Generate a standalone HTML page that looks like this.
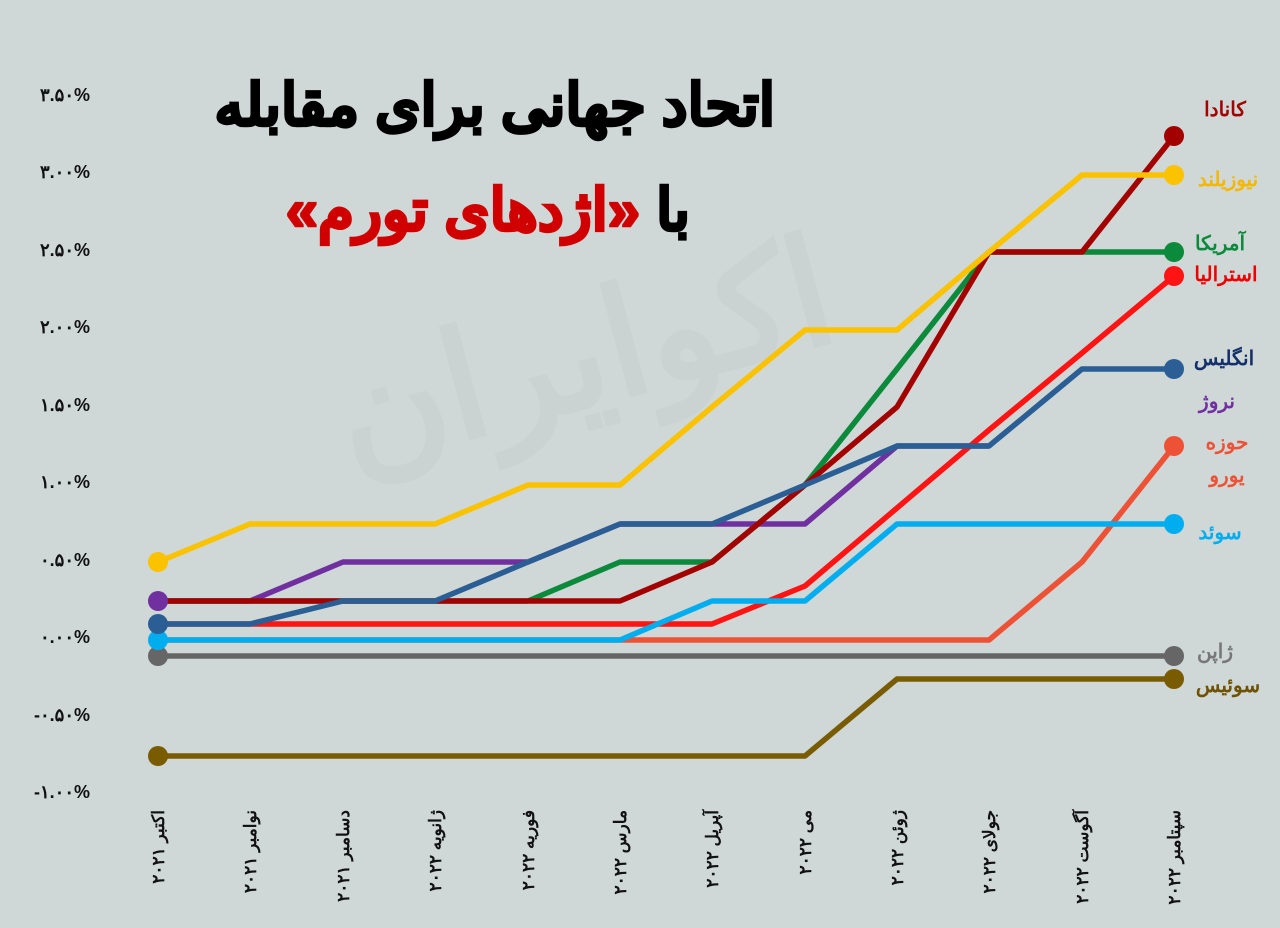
<!DOCTYPE html>
<html><head><meta charset="utf-8"><style>
html,body{margin:0;padding:0;background:#cfd7d7;}
svg{display:block}
text{font-family:"Liberation Sans","Noto Sans CJK SC",sans-serif;font-weight:bold}
</style></head><body>
<svg width="1280" height="928" viewBox="0 0 1280 928" xmlns="http://www.w3.org/2000/svg">
<rect width="1280" height="928" fill="#cfd7d7"/>
<text x="600" y="430" font-size="150" fill="#cad2d2" text-anchor="middle" transform="rotate(-15 500 430)" direction="rtl">اکوایران</text>
<g font-size="18" fill="#111" text-anchor="end">
<text x="90" y="101">۳.۵۰%</text>
<text x="90" y="178">۳.۰۰%</text>
<text x="90" y="256">۲.۵۰%</text>
<text x="90" y="333">۲.۰۰%</text>
<text x="90" y="411">۱.۵۰%</text>
<text x="90" y="488">۱.۰۰%</text>
<text x="90" y="566">۰.۵۰%</text>
<text x="90" y="643">۰.۰۰%</text>
<text x="90" y="721">-۰.۵۰%</text>
<text x="90" y="798">-۱.۰۰%</text>
</g>
<text x="775" y="125" font-size="58" fill="#000" stroke="#000" stroke-width="2.5" text-anchor="start" direction="rtl">اتحاد جهانی برای مقابله</text>
<text x="690" y="230" font-size="58" stroke-width="2.5" text-anchor="start" direction="rtl"><tspan fill="#000" stroke="#000">با </tspan><tspan fill="#d10000" stroke="#d10000">«اژدهای تورم»</tspan></text>
<g fill="none" stroke-width="5.5" stroke-linejoin="round">
<polyline stroke="#7a5c00" points="158,756 805,756 897,679 1174,679"/>
<polyline stroke="#666666" points="158,656 1174,656"/>
<polyline stroke="#ee5236" points="158,640 989,640 1082,562 1174,446"/>
<polyline stroke="#7030a0" points="158,601 250,601 343,562 528,562 620,524 805,524 897,446 989,446"/>
<polyline stroke="#0b8a3c" points="158,601 528,601 620,562 712,562 805,485 897,369 989,252 1174,252"/>
<polyline stroke="#a30000" points="158,601 620,601 712,562 805,485 897,407 989,252 1082,252 1174,136"/>
<polyline stroke="#ff1414" points="158,624 712,624 805,586 897,508 989,430 1082,353 1174,276"/>
<polyline stroke="#00aeef" points="158,640 620,640 712,601 805,601 897,524 1174,524"/>
<polyline stroke="#2a5e94" points="158,624 250,624 343,601 435,601 528,562 620,524 712,524 805,485 897,446 989,446 1082,369 1174,369"/>
<polyline stroke="#fbc200" points="158,562 250,524 435,524 528,485 620,485 712,407 805,330 897,330 989,252 1082,175 1174,175"/>
</g>
<g>
<circle cx="158" cy="756" r="10" fill="#7a5c00"/>
<circle cx="158" cy="656" r="10" fill="#666"/>
<circle cx="158" cy="640" r="10" fill="#00aeef"/>
<circle cx="158" cy="624" r="10" fill="#2a5e94"/>
<circle cx="158" cy="601" r="10" fill="#7030a0"/>
<circle cx="158" cy="562" r="10" fill="#fbc200"/>
<circle cx="1174" cy="136" r="10" fill="#a30000"/>
<circle cx="1174" cy="175" r="10" fill="#fbc200"/>
<circle cx="1174" cy="252" r="10" fill="#0b8a3c"/>
<circle cx="1174" cy="276" r="10" fill="#ff1414"/>
<circle cx="1174" cy="369" r="10" fill="#2a5e94"/>
<circle cx="1174" cy="446" r="10" fill="#ee5236"/>
<circle cx="1174" cy="524" r="10" fill="#00aeef"/>
<circle cx="1174" cy="656" r="10" fill="#666"/>
<circle cx="1174" cy="679" r="10" fill="#7a5c00"/>
</g>
<g font-size="20" text-anchor="middle" direction="rtl">
<text x="1225" y="116" fill="#a30000">کانادا</text>
<text x="1228" y="186" fill="#f5b800">نیوزیلند</text>
<text x="1220" y="250" fill="#0b8a3c">آمریکا</text>
<text x="1226" y="281" fill="#ee0000">استرالیا</text>
<text x="1224" y="365" fill="#14306a">انگلیس</text>
<text x="1217" y="408" fill="#7030a0">نروژ</text>
<text x="1227" y="449" fill="#ee5236">حوزه</text>
<text x="1227" y="482" fill="#ee5236">یورو</text>
<text x="1220" y="539" fill="#00aeef">سوئد</text>
<text x="1215" y="658" fill="#777">ژاپن</text>
<text x="1228" y="692" fill="#6e5200">سوئیس</text>
</g>
<g font-size="17" fill="#111" direction="rtl" text-anchor="start">
<text transform="translate(164,810) rotate(-90)">اکتبر ۲۰۲۱</text>
<text transform="translate(256,810) rotate(-90)">نوامبر ۲۰۲۱</text>
<text transform="translate(349,810) rotate(-90)">دسامبر ۲۰۲۱</text>
<text transform="translate(441,810) rotate(-90)">ژانویه ۲۰۲۲</text>
<text transform="translate(534,810) rotate(-90)">فوریه ۲۰۲۲</text>
<text transform="translate(626,810) rotate(-90)">مارس ۲۰۲۲</text>
<text transform="translate(718,810) rotate(-90)">آپریل ۲۰۲۲</text>
<text transform="translate(811,810) rotate(-90)">می ۲۰۲۲</text>
<text transform="translate(903,810) rotate(-90)">ژوئن ۲۰۲۲</text>
<text transform="translate(995,810) rotate(-90)">جولای ۲۰۲۲</text>
<text transform="translate(1088,810) rotate(-90)">آگوست ۲۰۲۲</text>
<text transform="translate(1180,810) rotate(-90)">سپتامبر ۲۰۲۲</text>
</g>
</svg>
</body></html>
